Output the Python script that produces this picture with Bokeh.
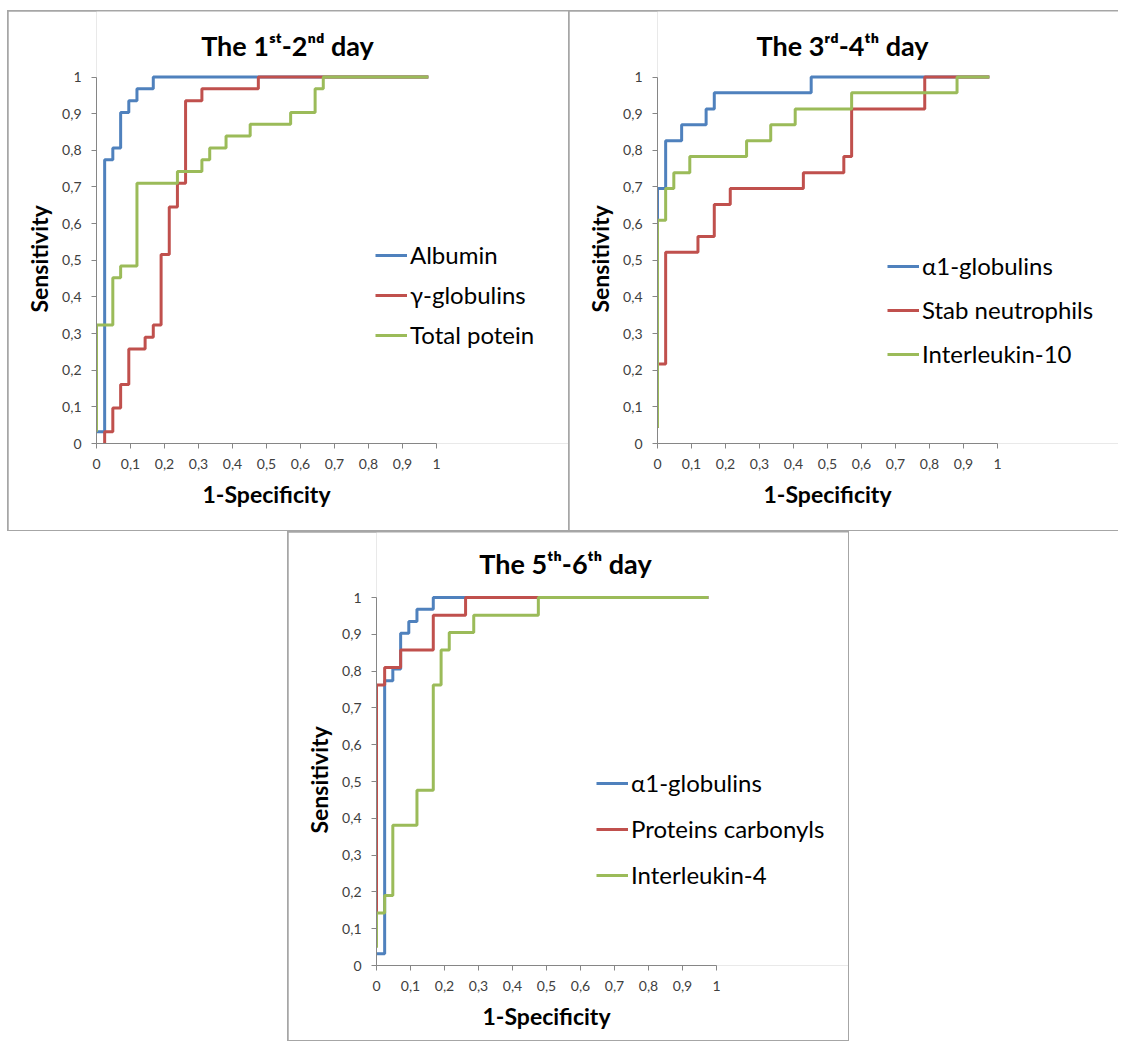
from bokeh.plotting import figure
from bokeh.models import FixedTicker, Legend, LegendItem, Label, Spacer, Title
from bokeh.layouts import column, row
from bokeh.embed import file_html
from bokeh.resources import INLINE

# ---------------- data ----------------
ticks = [0, 0.1, 0.2, 0.3, 0.4, 0.5, 0.6, 0.7, 0.8, 0.9, 1]
tick_labels = ["0", "0,1", "0,2", "0,3", "0,4", "0,5", "0,6", "0,7", "0,8", "0,9", "1"]

# Panel 1: The 1st-2nd day  (x = 1-Specificity at each step, y = Sensitivity after the step)
d1_albumin_x = [0, 0.024, 0.048, 0.071, 0.095, 0.119, 0.167, 0.976]
d1_albumin_y = [0.032, 0.774, 0.806, 0.903, 0.935, 0.968, 1.0, 1.0]
d1_gamma_x = [0.024, 0.024, 0.048, 0.071, 0.095, 0.143, 0.167, 0.190, 0.214, 0.238, 0.262, 0.310, 0.476, 0.976]
d1_gamma_y = [0.0, 0.032, 0.097, 0.161, 0.258, 0.290, 0.323, 0.516, 0.645, 0.710, 0.935, 0.968, 1.0, 1.0]
d1_total_x = [0, 0, 0.048, 0.071, 0.119, 0.238, 0.310, 0.333, 0.381, 0.452, 0.571, 0.643, 0.667, 0.976]
d1_total_y = [0.032, 0.323, 0.452, 0.484, 0.710, 0.742, 0.774, 0.806, 0.839, 0.871, 0.903, 0.968, 1.0, 1.0]

# Panel 2: The 3rd-4th day
d2_alpha_x = [0, 0, 0.024, 0.071, 0.143, 0.167, 0.452, 0.976]
d2_alpha_y = [0.043, 0.696, 0.826, 0.870, 0.913, 0.957, 1.0, 1.0]
d2_stab_x = [0, 0, 0.024, 0.119, 0.167, 0.214, 0.429, 0.548, 0.571, 0.786, 0.976]
d2_stab_y = [0.043, 0.217, 0.522, 0.565, 0.652, 0.696, 0.739, 0.783, 0.913, 1.0, 1.0]
d2_il10_x = [0, 0, 0.024, 0.048, 0.095, 0.262, 0.333, 0.405, 0.571, 0.881, 0.976]
d2_il10_y = [0.043, 0.609, 0.696, 0.739, 0.783, 0.826, 0.870, 0.913, 0.957, 1.0, 1.0]

# Panel 3: The 5th-6th day
d3_alpha_x = [0, 0.024, 0.048, 0.071, 0.095, 0.119, 0.167, 0.976]
d3_alpha_y = [0.032, 0.774, 0.806, 0.903, 0.935, 0.968, 1.0, 1.0]
d3_carb_x = [0, 0, 0.024, 0.071, 0.167, 0.262, 0.976]
d3_carb_y = [0.143, 0.762, 0.810, 0.857, 0.952, 1.0, 1.0]
d3_il4_x = [0, 0, 0.024, 0.048, 0.119, 0.167, 0.190, 0.214, 0.286, 0.476, 0.976]
d3_il4_y = [0.048, 0.143, 0.190, 0.381, 0.476, 0.762, 0.857, 0.905, 0.952, 1.0, 1.0]

titles = ["The 1\u02e2\u1d57-2\u207f\u1d48 day", "The 3\u02b3\u1d48-4\u1d57\u02b0 day", "The 5\u1d57\u02b0-6\u1d57\u02b0 day"]
names1 = ["Albumin", "\u03b3-globulins", "Total potein"]
names2 = ["\u03b11-globulins", "Stab neutrophils", "Interleukin-10"]
names3 = ["\u03b11-globulins", "Proteins carbonyls", "Interleukin-4"]
x_title = "1-Specificity"
y_title = "Sensitivity"

COLORS = ["#4F81BD", "#C0504D", "#9BBB59"]
FONT = "Lato"
BORDER = "#a6a6a6"


def make_panel(width, height, bottom, ppu_y, series, names, title, title_px,
               legend_loc, legend_spacing, margin):
    left = 88
    frame_w = width - left
    frame_h = height - bottom
    p = figure(width=width, height=height,
               x_range=(0, frame_w / 340.0), y_range=(0, frame_h / ppu_y),
               output_backend="svg", toolbar_location=None, title_location=None,
               min_border_left=left, min_border_right=0,
               min_border_top=0, min_border_bottom=bottom)
    p.margin = margin
    p.outline_line_color = None
    p.xgrid.visible = False
    p.ygrid.visible = False
    p.background_fill_color = "white"
    p.border_fill_color = "white"

    for ax in (p.xaxis[0], p.yaxis[0]):
        ax.ticker = FixedTicker(ticks=ticks)
        ax.bounds = (0, 1)
        ax.major_label_overrides = dict(zip(ticks, tick_labels))
        ax.axis_line_color = "#868686"
        ax.axis_line_width = 1
        ax.major_tick_line_color = "#868686"
        ax.major_tick_in = 0
        ax.major_tick_out = 5
        ax.minor_tick_line_color = None
        ax.major_label_text_font = FONT
        ax.major_label_text_font_size = "14px"
        ax.major_label_text_color = "#404040"
    p.xaxis.major_label_standoff = 10
    p.yaxis.major_label_standoff = 10

    # axis titles, centred on the 0..1 part of each axis
    p.add_layout(Title(text=x_title, align="left", offset=106, vertical_align="middle",
                       text_font=FONT, text_font_size="23px", text_font_style="bold",
                       text_color="#000000", standoff=14), "below")
    p.add_layout(Title(text=y_title, align="left", offset=round(0.5 * ppu_y) - 52,
                       vertical_align="middle",
                       text_font=FONT, text_font_size="23px", text_font_style="bold",
                       text_color="#000000", standoff=12), "left")

    renderers = []
    for (xs, ys), c in zip(series, COLORS):
        r = p.step(xs, ys, mode="after", line_color=c, line_width=3)
        renderers.append(r)

    legend = Legend(items=[LegendItem(label=n, renderers=[r]) for n, r in zip(names, renderers)],
                    location=legend_loc, orientation="vertical",
                    label_text_font=FONT, label_text_font_size="24px", label_text_color="#000000",
                    glyph_width=32, glyph_height=24, label_height=24, label_standoff=3,
                    spacing=legend_spacing, padding=0, margin=0,
                    border_line_alpha=0, background_fill_alpha=0)
    p.add_layout(legend)

    tx = (title_px[0] - left) / 340.0
    ty = (frame_h - title_px[1]) / ppu_y
    p.add_layout(Label(x=tx, y=ty, text=title, text_font=FONT, text_font_style="bold",
                       text_font_size="27px", text_align="center", text_baseline="middle",
                       text_color="#000000"))
    return p


# title_px = title centre relative to the figure's top-left corner
p1 = make_panel(560, 519, 87, 366.5,
                [(d1_albumin_x, d1_albumin_y), (d1_gamma_x, d1_gamma_y), (d1_total_x, d1_total_y)],
                names1, titles[0], (279, 34), (279, 94), 11, (1, 0, 1, 1))
p2 = make_panel(549, 519, 87, 366.5,
                [(d2_alpha_x, d2_alpha_y), (d2_stab_x, d2_stab_y), (d2_il10_x, d2_il10_y)],
                names2, titles[1], (273, 34), (230, 75), 15, (1, 1, 1, 1))
p3 = make_panel(560, 508, 75, 368.0,
                [(d3_alpha_x, d3_alpha_y), (d3_carb_x, d3_carb_y), (d3_il4_x, d3_il4_y)],
                names3, titles[2], (277, 31), (220, 76), 17, (1, 1, 1, 1))

top = row(p1, p2, styles={"background-color": BORDER}, width=1111, height=521)
bottom = row(p3, styles={"background-color": BORDER}, width=562, height=510)

layout = column(Spacer(width=1110, height=10),
                row(Spacer(width=7, height=521), top),
                row(Spacer(width=287, height=510), bottom))

open("out.html", "w").write(file_html(layout, INLINE))
